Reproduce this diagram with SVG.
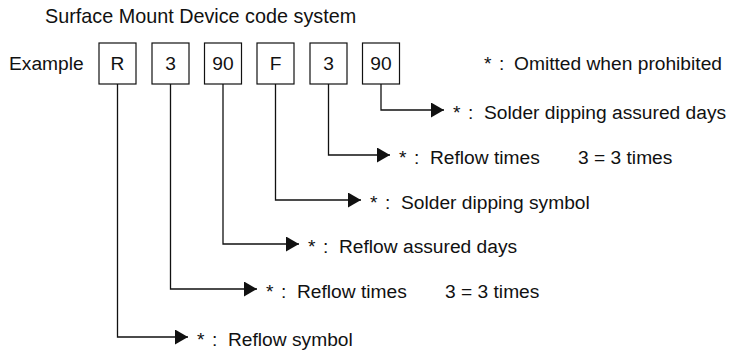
<svg xmlns="http://www.w3.org/2000/svg" width="736" height="355" viewBox="0 0 736 355">
  <style>
    text { font-family: "Liberation Sans", Arial, sans-serif; font-size: 19.2px; fill: #111; }
    .title { font-size: 19.8px; }
    .box { fill: #fff; stroke: #111; stroke-width: 1.2; }
    .code { text-anchor: middle; }
    .leader { fill: none; stroke: #111; stroke-width: 1.3; marker-end: url(#tri); }
  </style>
  <defs>
    <marker id="tri" markerUnits="userSpaceOnUse" markerWidth="14" markerHeight="16" refX="13" refY="7.5" orient="auto">
      <path d="M0,0 L13,7.5 L0,15 Z" fill="#111"/>
    </marker>
  </defs>

  <rect width="736" height="355" fill="#fff"/>

  <text id="title" class="title" x="45" y="23">Surface Mount Device code system</text>
  <text id="example-label" x="9" y="70">Example</text>

  <!-- code characters -->
  <g id="box-r"><rect class="box" x="99" y="43" width="37" height="41"/><text class="code" x="117.5" y="70">R</text></g>
  <g id="box-reflow-times"><rect class="box" x="152" y="43" width="37" height="41"/><text class="code" x="170.5" y="70">3</text></g>
  <g id="box-reflow-days"><rect class="box" x="204.5" y="43" width="37" height="41"/><text class="code" x="223" y="70">90</text></g>
  <g id="box-f"><rect class="box" x="257" y="43" width="37" height="41"/><text class="code" x="275.5" y="70">F</text></g>
  <g id="box-dip-times"><rect class="box" x="310" y="43" width="37" height="41"/><text class="code" x="328.5" y="70">3</text></g>
  <g id="box-dip-days"><rect class="box" x="362.5" y="43" width="37" height="41"/><text class="code" x="381" y="70">90</text></g>

  <g id="note"><text x="484" y="70"><tspan>*</tspan><tspan x="499">:</tspan><tspan x="514">Omitted when prohibited</tspan></text></g>

  <!-- leaders from each character to its meaning -->
  <g id="connectors">
    <path class="leader" d="M381,84 V110 H444"/>
    <path class="leader" d="M328.5,84 V155 H390"/>
    <path class="leader" d="M275.5,84 V200 H361"/>
    <path class="leader" d="M223,84 V244 H299"/>
    <path class="leader" d="M170.5,84 V289 H257"/>
    <path class="leader" d="M117.5,84 V337 H188"/>
  </g>

  <g id="desc-dip-days"><text x="453" y="119"><tspan>*</tspan><tspan x="468">:</tspan><tspan x="484">Solder dipping assured days</tspan></text></g>
  <g id="desc-dip-times"><text x="399" y="164"><tspan>*</tspan><tspan x="414">:</tspan><tspan x="430">Reflow times</tspan><tspan x="578">3 = 3 times</tspan></text></g>
  <g id="desc-f"><text x="370" y="209"><tspan>*</tspan><tspan x="385">:</tspan><tspan x="401">Solder dipping symbol</tspan></text></g>
  <g id="desc-reflow-days"><text x="308" y="253"><tspan>*</tspan><tspan x="323">:</tspan><tspan x="339">Reflow assured days</tspan></text></g>
  <g id="desc-reflow-times"><text x="266" y="298"><tspan>*</tspan><tspan x="281">:</tspan><tspan x="297">Reflow times</tspan><tspan x="445">3 = 3 times</tspan></text></g>
  <g id="desc-r"><text x="197" y="346"><tspan>*</tspan><tspan x="212">:</tspan><tspan x="228">Reflow symbol</tspan></text></g>
</svg>
